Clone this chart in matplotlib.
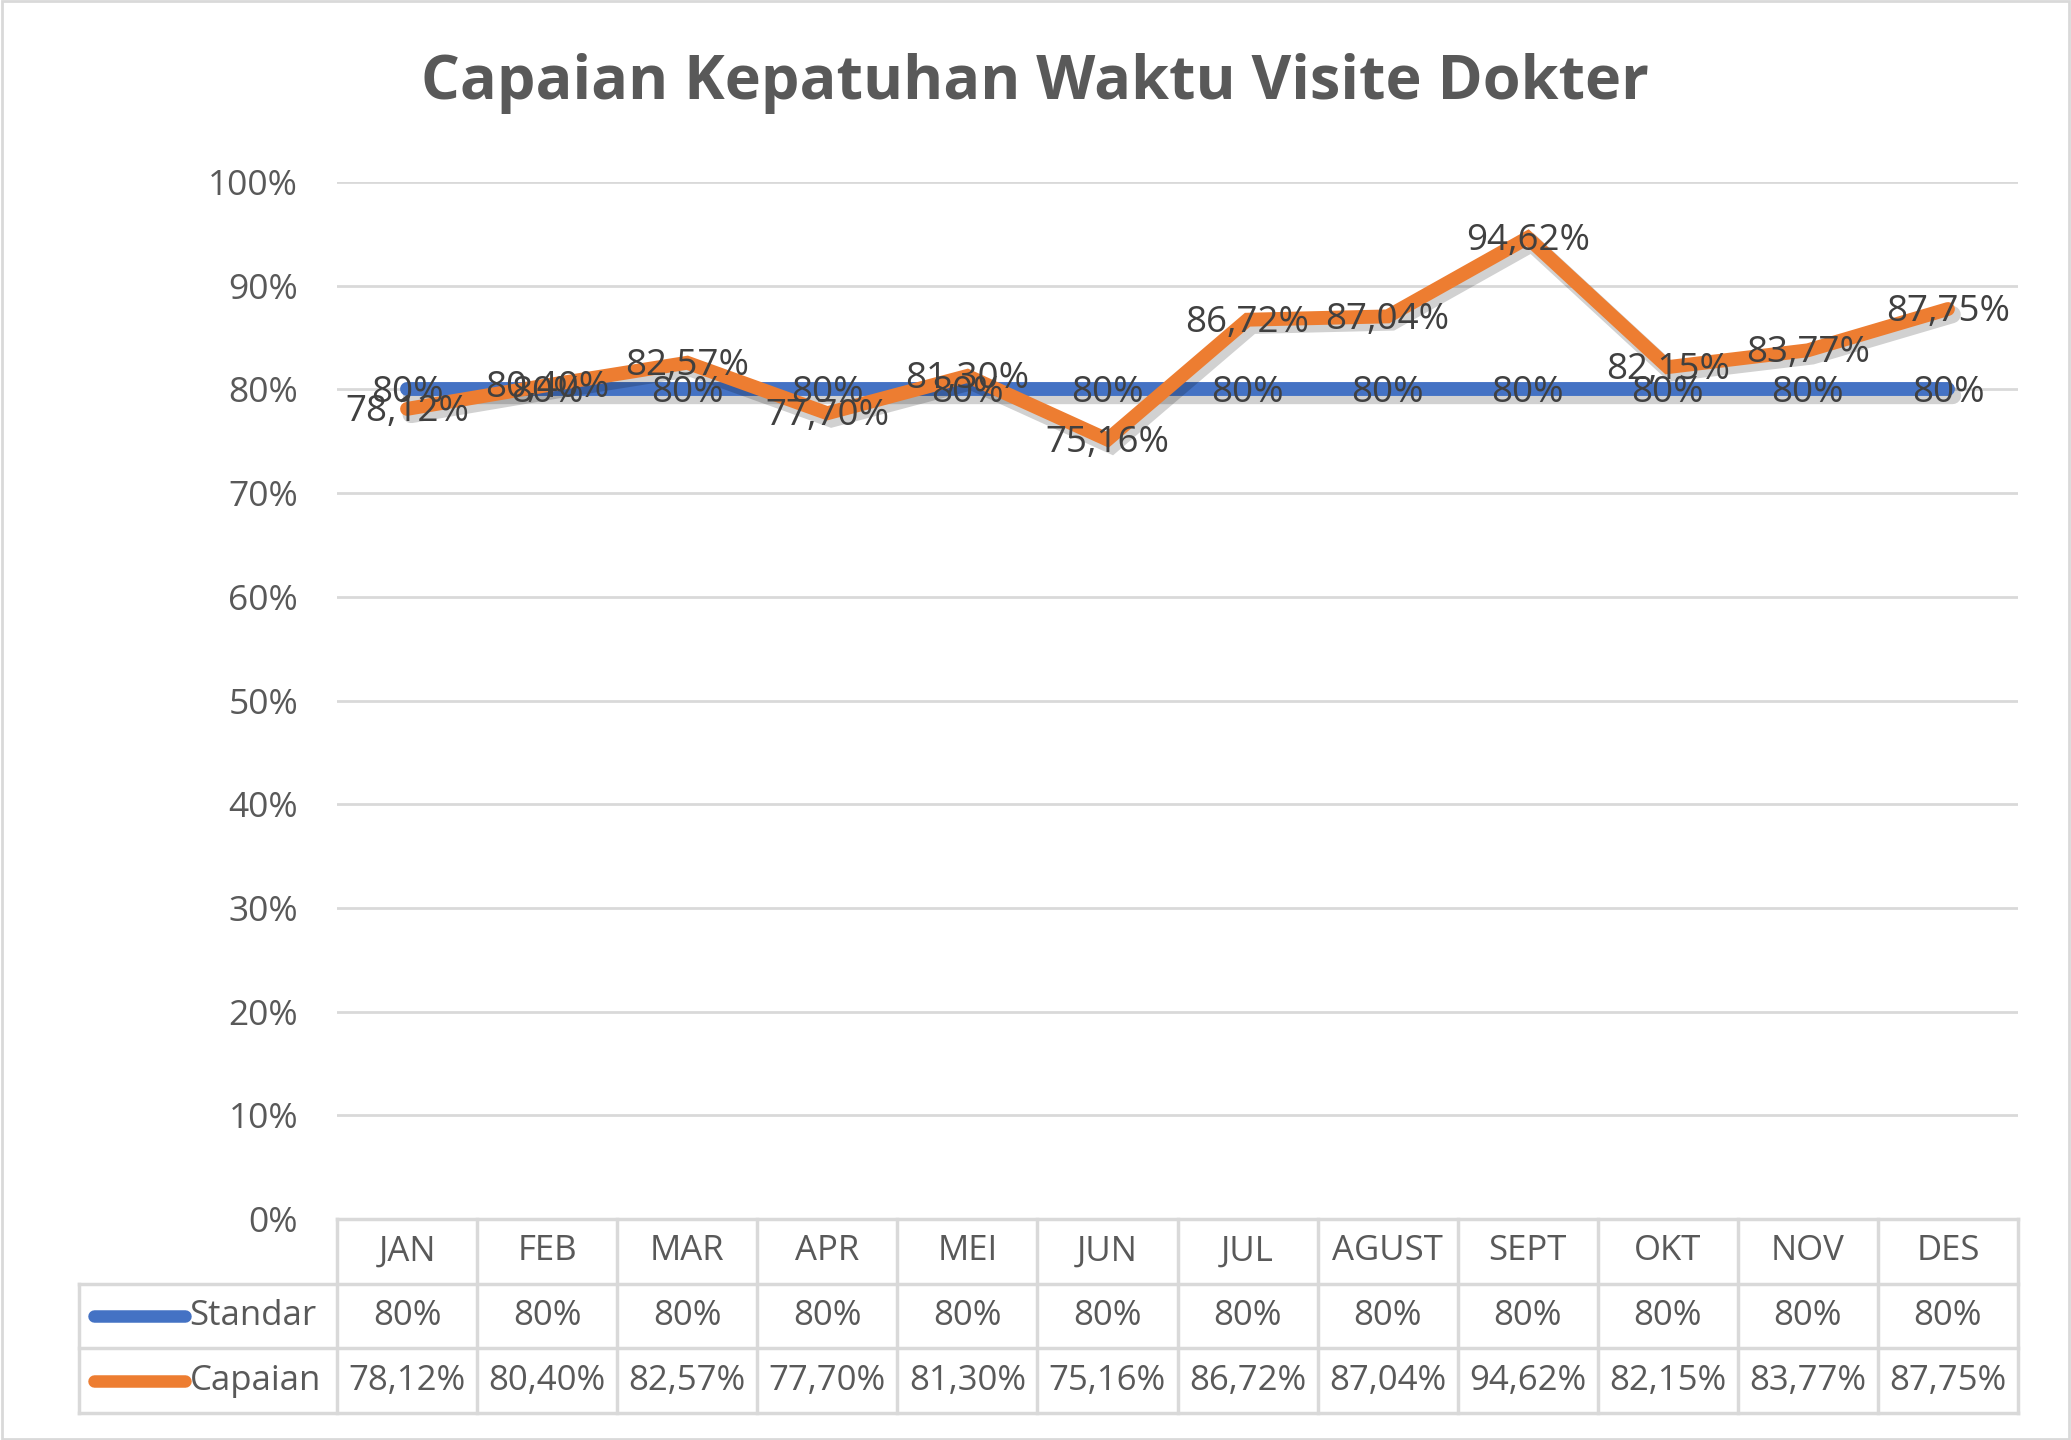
import matplotlib
matplotlib.use("Agg")
import matplotlib.pyplot as plt
import matplotlib.patheffects as pe
import numpy as np

plt.rcParams['font.family'] = ['Open Sans', 'DejaVu Sans']

months = ["JAN", "FEB", "MAR", "APR", "MEI", "JUN", "JUL", "AGUST", "SEPT", "OKT", "NOV", "DES"]
standar = [0.80] * 12
capaian = [0.7812, 0.8040, 0.8257, 0.7770, 0.8130, 0.7516, 0.8672, 0.8704, 0.9462, 0.8215, 0.8377, 0.8775]
series_names = ["Standar", "Capaian"]
colors = ["#4472C4", "#ED7D31"]

def fmt(v):
    if abs(v * 100 - round(v * 100)) < 1e-9:
        return "%d%%" % round(v * 100)
    return ("%.2f%%" % (v * 100)).replace(".", ",")

W, H = 2071, 1440
FS = 25
fig = plt.figure(figsize=(W / 100, H / 100), dpi=100)

# outer chart border
fig.patches.append(plt.Rectangle((0.001, 0.001), 0.998, 0.998, transform=fig.transFigure,
                                 fill=False, edgecolor="#D9D9D9", linewidth=2))

# plot area in pixels
px_l, px_r = 337, 2018
py_top, py_bot = 182, 1219
ax = fig.add_axes([px_l / W, 1 - py_bot / H, (px_r - px_l) / W, (py_bot - py_top) / H])
x = np.arange(12) + 0.5
ax.set_xlim(0, 12)
ax.set_ylim(0, 1)
yt = np.arange(0, 1.01, 0.1)
ax.set_yticks(yt)
ax.set_yticklabels(["%d%%" % round(t * 100) for t in yt], fontsize=FS + 0.5, color="#595959")
ax.tick_params(axis="y", length=0, pad=28)
ax.set_xticks([])
ax.grid(axis="y", color="#D9D9D9", linewidth=2)
ax.set_axisbelow(True)
for s in ax.spines.values():
    s.set_visible(False)

shadow = [pe.SimpleLineShadow(offset=(3, -4), shadow_color="black", alpha=0.18, linewidth=12.5), pe.Normal()]
for vals, c in zip([standar, capaian], colors):
    ax.plot(x, vals, color=c, linewidth=10, solid_capstyle="round", solid_joinstyle="miter",
            path_effects=shadow, zorder=3, clip_on=False)

for vals in [standar, capaian]:
    for xi, v in zip(x, vals):
        ax.text(xi, v - 0.003, fmt(v), ha="center", va="center", fontsize=26.5, color="#404040", zorder=5)

# title
fig.text(1035 / W, 1 - 83 / H, "Capaian Kepatuhan Waktu Visite Dokter", ha="center", va="center",
         fontsize=44, fontweight="bold", color="#595959")

# data table below
t_left, t_bot = 79, 1413
leg_w = (px_l - t_left) / ((px_r - px_l) / 12)
tax = fig.add_axes([t_left / W, 1 - t_bot / H, (px_r - t_left) / W, (t_bot - py_bot) / H])
tax.set_xlim(-leg_w, 12)
tax.set_ylim(0, 3)
tax.axis("off")
lc = "#D9D9D9"
lw = 2.5
tax.plot([0, 12], [3, 3], color=lc, lw=lw, clip_on=False)
tax.plot([-leg_w, 12], [2, 2], color=lc, lw=lw, clip_on=False)
tax.plot([-leg_w, 12], [1, 1], color=lc, lw=lw, clip_on=False)
tax.plot([-leg_w, 12], [0, 0], color=lc, lw=lw, clip_on=False)
tax.plot([-leg_w, -leg_w], [0, 2], color=lc, lw=lw, clip_on=False)
for i in range(13):
    tax.plot([i, i], [0, 3], color=lc, lw=lw, clip_on=False)

for i, m in enumerate(months):
    tax.text(i + 0.5, 2.5, m, ha="center", va="center", fontsize=FS, color="#595959")
for r, (name, vals, c) in enumerate(zip(series_names, [standar, capaian], colors)):
    yc = 1.5 - r
    tax.plot([-leg_w + 0.11, -leg_w + 0.76], [yc, yc], color=c, lw=9, solid_capstyle="round")
    tax.text(-leg_w + 0.79, yc, name, ha="left", va="center", fontsize=FS, color="#595959")
    for i, v in enumerate(vals):
        tax.text(i + 0.5, yc, fmt(v), ha="center", va="center", fontsize=FS, color="#595959")

fig.savefig("out.png", dpi=100)
